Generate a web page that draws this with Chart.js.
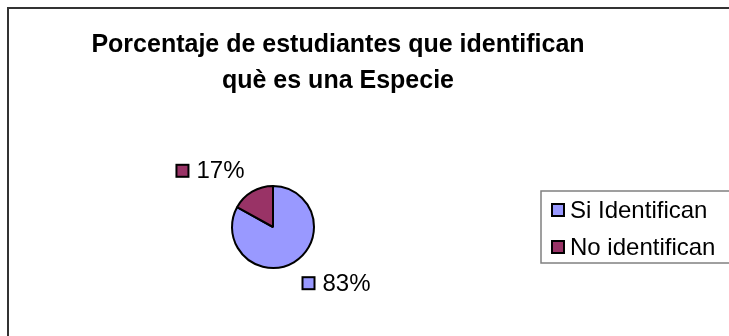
<!DOCTYPE html>
<html>
<head>
<meta charset="utf-8">
<script src="https://cdn.jsdelivr.net/npm/chart.js@4.4.1/dist/chart.umd.min.js"></script>
<style>
body{margin:0;background:#fff}
canvas{display:block}
</style>
</head>
<body>
<canvas id="pieChart" width="729" height="336"></canvas>
<script>

const titleLines=["Porcentaje de estudiantes que identifican","què es una Especie"]
const categories=["Si Identifican","No identifican"]
const values=[83,17]
const colors=["#9999ff","#993366"]

const fontName="'Liberation Sans', Arial, sans-serif"

/* ========== frame + title ========== */
const framePlugin={
  id:'frame',
  beforeDraw(chart){
    const c=chart.ctx
    c.save()
    c.fillStyle='#fff'
    c.fillRect(0,0,chart.width,chart.height)
    c.strokeStyle='#333'
    c.lineWidth=2
    c.strokeRect(8,8,chart.width+20,chart.height+20)
    c.fillStyle='#000'
    c.font='bold 25px '+fontName
    c.textAlign='center'
    c.textBaseline='alphabetic'
    c.fillText(titleLines[0],338,52)
    c.fillText(titleLines[1],338,88)
    c.restore()
  }
}

/* ========== percent labels next to the slices ========== */
const labelPlugin={
  id:'pctLabels',
  afterDatasetsDraw(chart){
    const c=chart.ctx
    const meta=chart.getDatasetMeta(0)
    const ds=chart.data.datasets[0]
    const total=ds.data.reduce((a,b)=>a+b,0)
    c.save()
    c.font='24px '+fontName
    c.textBaseline='middle'
    c.textAlign='left'
    meta.data.forEach((arc,i)=>{
      const p=arc.getProps(['x','y','startAngle','endAngle','outerRadius'],true)
      const mid=(p.startAngle+p.endAngle)/2
      const dx=Math.cos(mid), dy=Math.sin(mid)
      const ax=p.x+dx*(p.outerRadius+15)
      const ay=p.y+dy*(p.outerRadius+15)
      const txt=Math.round(ds.data[i]/total*100)+'%'
      const w=21+c.measureText(txt).width
      const h=16
      const left=dx>=0?ax:ax-w
      const top=dy>=0?ay:ay-h
      c.fillStyle=ds.backgroundColor[i]
      c.fillRect(left+1,top+2,12,12)
      c.strokeStyle='#000'
      c.lineWidth=2
      c.strokeRect(left+1,top+2,12,12)
      c.fillStyle='#000'
      c.fillText(txt,left+21,top+h/2+1)
    })
    c.restore()
  }
}

/* ========== boxed legend on the right ========== */
const legendPlugin={
  id:'boxLegend',
  afterDraw(chart){
    const c=chart.ctx
    const ds=chart.data.datasets[0]
    c.save()
    c.strokeStyle='#808080'
    c.lineWidth=1.5
    c.strokeRect(541,191,300,72)
    c.font='24px '+fontName
    c.textBaseline='middle'
    c.textAlign='left'
    chart.data.labels.forEach((lab,i)=>{
      const y=210+i*37
      c.fillStyle=ds.backgroundColor[i]
      c.fillRect(552,y-6,12,12)
      c.strokeStyle='#000'
      c.lineWidth=2
      c.strokeRect(552,y-6,12,12)
      c.fillStyle='#000'
      c.fillText(lab,570,y+1)
    })
    c.restore()
  }
}

const ctx=document.getElementById('pieChart')

new Chart(ctx,{
  type:'pie',
  data:{
    labels:categories,
    datasets:[{
      data:values,
      backgroundColor:colors,
      borderColor:'#000',
      borderWidth:2,
      radius:41
    }]
  },
  options:{
    responsive:false,
    animation:false,
    layout:{padding:{left:223,right:406,top:177,bottom:59}},
    plugins:{legend:{display:false},tooltip:{enabled:false},title:{display:false}}
  },
  plugins:[framePlugin,labelPlugin,legendPlugin]
})

</script>
</body>
</html>
